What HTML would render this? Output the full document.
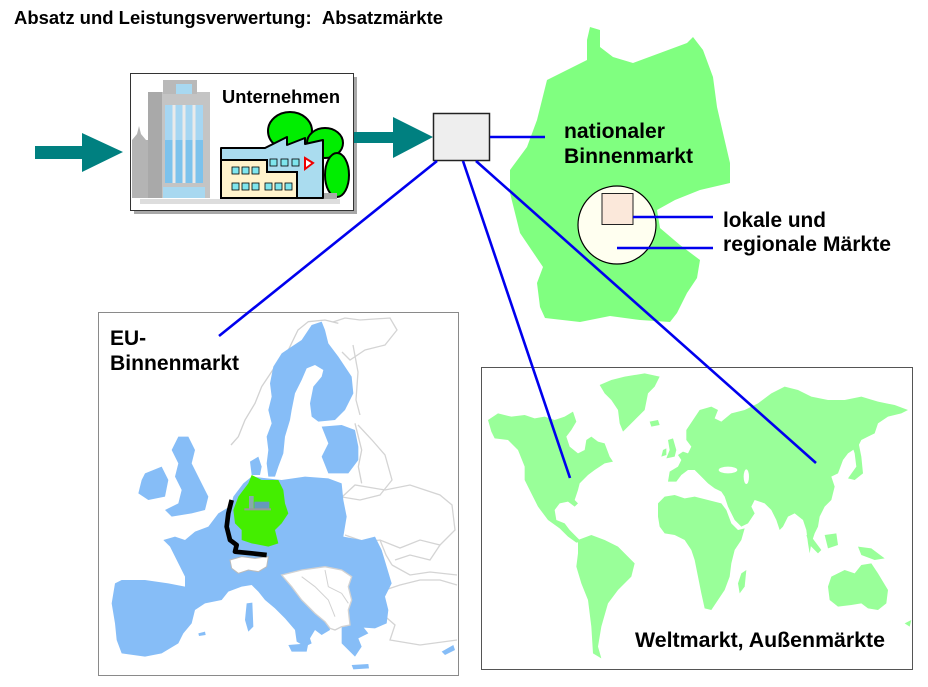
<!DOCTYPE html>
<html><head><meta charset="utf-8"><style>
html,body{margin:0;padding:0;background:#fff;width:928px;height:687px;overflow:hidden}
svg{display:block}
text{font-family:"Liberation Sans",Arial,sans-serif;font-weight:bold;fill:#000}
</style></head><body>
<svg width="928" height="687" viewBox="0 0 928 687" xmlns="http://www.w3.org/2000/svg">
<rect width="928" height="687" fill="#fff"/>

<!-- Title -->
<text x="14" y="24" font-size="18.5" textLength="429" lengthAdjust="spacingAndGlyphs">Absatz und Leistungsverwertung:&#160;&#160;Absatzmärkte</text>

<!-- Germany big map -->
<polygon fill="#80FF80" points="590,27 600,30 600,47 613,57 633,63 660,53 687,43 693,37 703,50 713,77 717,107 723,133 730,163 730,183 700,190 675,200 657,210 660,228 680,245 700,260 697,278 687,293 677,313 670,322 640,320 610,316 580,322 545,318 540,307 537,283 543,267 520,233 510,193 510,170 527,147 537,120 547,80 567,70 587,60 587,40"/>

<!-- Unternehmen box -->
<rect x="134" y="77" width="223" height="137" fill="#a8a8a8"/>
<rect x="130.5" y="73.5" width="223" height="137" fill="#fff" stroke="#333" stroke-width="1"/>
<polygon fill="#b4b4b4" points="132,198 132,140 137,134 139,126 141,134 146,140 150,140 150,198"/>
<rect x="148" y="92" width="62" height="106" fill="#c4c4c4"/>
<rect x="148" y="92" width="14" height="106" fill="#a9a9a9"/>
<rect x="163" y="80" width="34" height="14" fill="#b9b9b9"/>
<rect x="176" y="84" width="16" height="10" fill="#a8d8f0"/>
<rect x="165" y="105" width="38" height="78" fill="#a6d6f2"/>
<rect x="165" y="140" width="38" height="43" fill="#7cc2ec"/>
<g stroke="#eaeaea" stroke-width="3">
<line x1="174" y1="105" x2="174" y2="183"/><line x1="184" y1="105" x2="184" y2="183"/><line x1="194" y1="105" x2="194" y2="183"/>
</g>
<rect x="163" y="187" width="42" height="11" fill="#a8d8f0"/>
<ellipse cx="290" cy="131" rx="22" ry="19" fill="#00EE00" stroke="#000" stroke-width="2"/>
<ellipse cx="325" cy="143" rx="18" ry="15" fill="#00EE00" stroke="#000" stroke-width="2"/>
<ellipse cx="337" cy="175" rx="12" ry="22" fill="#00EE00" stroke="#000" stroke-width="2"/>
<rect x="323" y="193" width="14" height="6" fill="#aaa"/>
<polygon fill="#aadcef" stroke="#000" stroke-width="2" stroke-linejoin="round" points="221,198 221,148 265,148 287,137 287,145 305,138 305,144 323,140 323,198"/>
<polygon fill="#fff3cc" stroke="#000" stroke-width="2" points="221,160 267,160 267,172 297,172 297,198 221,198"/>
<g fill="#7fe6ee" stroke="#000" stroke-width="0.8">
<rect x="270" y="159" width="7" height="7"/><rect x="281" y="159" width="7" height="7"/><rect x="292" y="159" width="7" height="7"/>
<rect x="232" y="167" width="7" height="7"/><rect x="242" y="167" width="7" height="7"/><rect x="252" y="167" width="7" height="7"/>
<rect x="232" y="183" width="7" height="7"/><rect x="242" y="183" width="7" height="7"/><rect x="252" y="183" width="7" height="7"/>
<rect x="265" y="183" width="7" height="7"/><rect x="275" y="183" width="7" height="7"/><rect x="285" y="183" width="7" height="7"/>
</g>
<polygon fill="#fff" stroke="#ee0000" stroke-width="2" points="305,158 313,163 305,169"/>
<rect x="140" y="199" width="200" height="5" fill="#ddd"/>
<text x="222" y="103" font-size="18" textLength="118" lengthAdjust="spacingAndGlyphs">Unternehmen</text>

<!-- arrows -->
<polygon fill="#008080" points="35,146 82,146 82,133 123,152 82,172 82,159 35,159"/>
<polygon fill="#008080" points="354,132 393,132 393,117 433,137 393,158 393,143 354,143"/>

<!-- junction box -->
<rect x="433.5" y="113.5" width="56" height="47" fill="#eeeeee" stroke="#222" stroke-width="1.5"/>

<!-- circle and square -->
<circle cx="617" cy="225" r="39" fill="#fffff0" stroke="#000" stroke-width="1.2"/>
<rect x="602" y="193.5" width="31" height="31" fill="#fbe8da" stroke="#222" stroke-width="1"/>

<text x="564" y="138" font-size="21" textLength="101" lengthAdjust="spacingAndGlyphs">nationaler</text>
<text x="564" y="163" font-size="21" textLength="129" lengthAdjust="spacingAndGlyphs">Binnenmarkt</text>
<text x="723" y="227" font-size="21" textLength="103" lengthAdjust="spacingAndGlyphs">lokale und</text>
<text x="723" y="251" font-size="21" textLength="168" lengthAdjust="spacingAndGlyphs">regionale Märkte</text>

<!-- EU box -->
<rect x="98.5" y="312.5" width="360" height="363" fill="#fff" stroke="#8a8a8a" stroke-width="1"/>
<!-- faint non-EU outlines east (orig coords) -->
<g fill="none" stroke="#d4d4d4" stroke-width="1.3">
  <polyline points="333,322 345,318 360,320 390,318 397,330 385,345 365,350 350,360 342,352"/>
  <polyline points="353,345 358,372 356,400 360,415"/>
  <polyline points="358,425 372,440 385,455 392,480 380,495 360,500 342,497"/>
  <polyline points="342,497 355,485 385,490 410,485 440,495 452,505 455,530 440,545 420,540 400,548 380,540 365,542 345,535"/>
  <polyline points="380,540 386,555 392,565"/>
  <polyline points="395,560 410,555 430,560 440,545"/>
  <polyline points="385,590 400,585 420,580 440,580 457,585"/>
  <polyline points="380,612 395,625 390,640 420,645 457,640"/>
  <polyline points="392,565 410,575 430,572 457,575"/>
</g>
<g transform="translate(95 310) scale(0.33333)">
  <g fill="none" stroke="#d2d2d2" stroke-width="4">
    <polyline points="408,405 430,380 450,330 480,280 500,230 540,170 580,120 609,60 640,35 690,30 730,40"/>
    <polyline points="780,340 800,420 790,470 800,520"/>
  </g>
  <g fill="#86bdf7">
    <polygon points="650,45 680,35 690,60 700,100 730,140 770,200 775,250 750,300 720,330 670,335 650,320 645,280 655,230 680,200 685,180 660,165 635,175 620,210 600,250 590,300 585,330 570,380 565,430 550,470 540,500 520,500 515,460 520,420 515,380 530,340 520,300 530,260 525,220 535,170 560,130 590,110 620,90 640,60"/>
    <polygon points="680,350 740,345 780,360 790,410 790,450 760,490 700,490 680,440 700,400"/>
    <polygon points="465,455 490,440 500,470 495,495 470,495"/>
    <polygon points="205,690 240,680 270,690 300,665 340,650 370,610 395,595 410,580 415,560 430,540 445,520 470,500 560,510 630,500 700,505 740,520 745,570 755,620 745,680 800,690 840,680 860,720 875,770 890,820 870,860 880,900 875,940 840,955 760,950 700,930 705,960 680,975 660,960 645,985 650,1000 630,1010 605,995 600,960 570,925 540,895 510,870 490,845 470,825 440,830 400,845 380,870 330,880 300,900 290,940 265,970 250,1000 200,1030 150,1040 80,1030 65,990 60,940 50,880 60,820 80,810 150,810 220,820 270,830 270,800 255,770 240,740 225,710"/>
    <polygon points="740,950 800,945 820,970 790,985 800,1010 780,1040 760,1020 740,1000"/>
    <polygon points="770,1065 820,1062 822,1075 775,1078"/>
    <polygon points="250,380 280,380 300,420 290,460 320,520 340,560 330,600 290,610 230,620 210,600 250,580 260,540 240,500 250,460 230,420"/>
    <polygon points="150,490 200,470 220,510 210,560 160,570 130,550 140,510"/>
    <polygon points="455,880 472,878 475,950 460,965 450,930"/>
    <polygon points="580,1005 640,1000 635,1025 590,1025"/>
    <polygon points="1040,1025 1075,1005 1080,1020 1050,1035"/>
    <polygon points="310,970 330,965 332,975 312,978"/>
  </g>
  <polygon fill="#fff" stroke="#d2d2d2" stroke-width="4" points="560,795 620,780 690,770 740,780 770,800 760,830 770,870 760,900 765,945 740,950 720,960 705,955 690,935 660,910 620,870 590,830"/>
  <g fill="none" stroke="#d2d2d2" stroke-width="3">
    <polyline points="620,800 660,830 700,870 720,920"/>
    <polyline points="690,780 700,830 740,850 760,880"/>
  </g>
  <polygon fill="#fff" stroke="#bbb" stroke-width="3" points="405,750 440,740 480,745 520,740 515,770 490,785 460,780 430,790 410,775"/>
  <polyline fill="none" stroke="#000" stroke-width="14" stroke-linejoin="round" points="410,570 400,610 395,650 405,690 425,705 420,725 470,730 515,735"/>
  <polygon fill="#44ee00" points="470,495 500,510 550,510 565,540 570,580 580,610 560,640 540,660 550,700 520,710 470,700 440,690 440,660 420,640 415,600 430,560 445,540 460,520"/>
  <rect x="462" y="558" width="14" height="40" fill="#8aa"/>
  <rect x="478" y="575" width="45" height="22" fill="#69b"/>
  <rect x="448" y="595" width="80" height="6" fill="#999"/>
</g>
<text x="110" y="345" font-size="21">EU-</text>
<text x="110" y="370" font-size="21" textLength="129" lengthAdjust="spacingAndGlyphs">Binnenmarkt</text>

<!-- World box -->
<rect x="481.5" y="367.5" width="431" height="302" fill="#fff" stroke="#555" stroke-width="1"/>
<g transform="translate(478 360) scale(0.33333)" fill="#99ff99">
  <polygon points="30,180 60,160 100,170 140,165 170,175 200,170 230,180 260,170 285,155 295,185 280,210 265,230 275,260 300,280 320,270 325,240 340,230 360,245 380,250 395,290 405,305 380,310 350,330 330,345 305,370 300,390 290,420 300,430 290,440 270,425 245,430 230,450 235,480 260,490 275,510 300,535 310,545 295,548 270,530 245,505 210,480 180,440 160,400 140,360 140,320 120,270 90,240 50,235 40,215"/>
  <polygon points="365,75 400,60 440,50 500,40 545,50 530,80 510,100 500,150 470,180 435,215 425,190 420,150 400,120 380,100"/>
  <polygon points="515,185 540,180 545,195 520,200"/>
  <polygon points="300,540 340,525 380,540 420,560 470,610 460,650 420,690 390,730 370,800 360,860 370,895 345,880 340,800 330,720 310,670 295,620 300,580"/>
  <polygon points="570,365 575,335 600,320 610,300 600,285 615,275 630,280 640,260 625,240 625,210 645,180 665,150 700,140 720,150 710,175 730,185 760,160 800,150 840,130 880,100 920,80 960,90 1000,110 1050,120 1100,120 1150,110 1200,125 1250,135 1290,150 1270,160 1230,170 1200,190 1190,220 1170,230 1150,240 1140,260 1110,280 1095,300 1080,340 1060,350 1070,380 1060,420 1040,440 1025,470 1020,500 1010,520 1000,550 995,580 990,550 985,510 975,480 950,460 930,470 915,500 905,510 895,480 880,450 860,430 830,420 820,440 830,460 810,490 790,500 770,480 750,440 740,410 730,395 710,385 690,370 670,350 650,330 630,330 610,345 595,365"/>
  <polygon points="540,430 560,410 590,405 620,415 650,410 690,420 730,430 745,450 760,490 780,510 800,505 790,540 770,570 760,610 755,650 740,690 720,720 700,750 680,745 670,700 660,650 650,600 640,570 620,540 590,525 560,520 545,500 540,470"/>
  <polygon points="790,640 805,630 800,680 785,700 780,670"/>
  <polygon points="1060,650 1100,630 1130,640 1150,615 1180,610 1200,640 1230,690 1225,730 1200,750 1170,745 1150,730 1120,735 1080,740 1055,720 1050,680"/>
  <polygon points="985,525 1000,530 1030,570 1020,580 995,555"/>
  <polygon points="1040,525 1075,520 1080,555 1050,565"/>
  <polygon points="1140,560 1180,565 1220,595 1190,600 1150,585"/>
  <polygon points="1120,250 1140,240 1150,290 1155,340 1130,360 1110,355 1135,320 1130,280"/>
  <polygon points="570,240 585,235 595,270 590,290 565,295 575,270"/>
  <polygon points="555,270 565,265 565,285 550,290"/>
  <polygon points="1280,790 1300,780 1295,800"/>
  <ellipse cx="750" cy="330" rx="28" ry="10" fill="#fff"/>
  <ellipse cx="805" cy="350" rx="8" ry="22" fill="#fff"/>
</g>
<text x="635" y="647" font-size="21" textLength="250" lengthAdjust="spacingAndGlyphs">Weltmarkt, Außenmärkte</text>

<!-- blue connectors -->
<g stroke="#0000ee" stroke-width="2.6" fill="none">
  <line x1="490" y1="137" x2="545" y2="137"/>
  <line x1="437" y1="161" x2="219" y2="336"/>
  <line x1="463" y1="161" x2="570" y2="478"/>
  <line x1="476" y1="161" x2="816" y2="463"/>
  <line x1="633" y1="217" x2="713" y2="217"/>
  <line x1="617" y1="248" x2="713" y2="248"/>
</g>
</svg>
</body></html>
